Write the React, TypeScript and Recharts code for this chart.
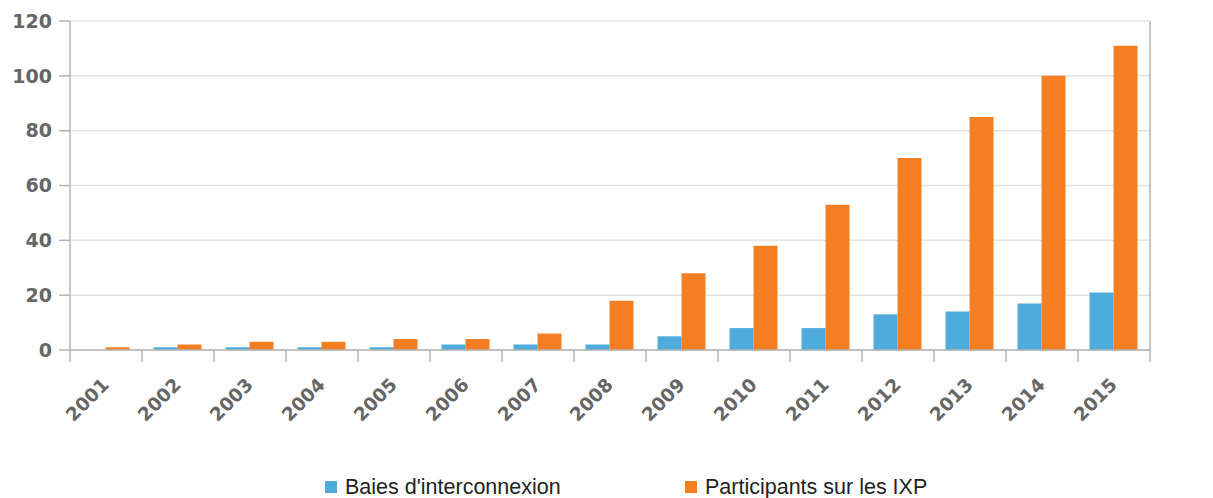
import React from 'react';
import { BarChart, Bar, XAxis, YAxis, CartesianGrid, Legend } from 'recharts';

const years = ['2001', '2002', '2003', '2004', '2005', '2006', '2007', '2008', '2009', '2010', '2011', '2012', '2013', '2014', '2015'];
const baies = [0, 1, 1, 1, 1, 2, 2, 2, 5, 8, 8, 13, 14, 17, 21];
const participants = [1, 2, 3, 3, 4, 4, 6, 18, 28, 38, 53, 70, 85, 100, 111];
const yTicks = [0, 20, 40, 60, 80, 100, 120];

const seriesNames = ["Baies d'interconnexion", 'Participants sur les IXP'];
const BLUE = '#4fabdc';
const ORANGE = '#f47e22';
const AXIS = '#b3b3b3';
const TEXT = '#666666';

const data = years.map((y, i) => ({ year: y, baies: baies[i], participants: participants[i] }));

const XTick = (props: any) => {
  const { x, y, payload, index } = props;
  const half = payload && typeof payload.offset === 'number' && payload.offset > 0 ? payload.offset : 36;
  const tx = x + 4;
  const ty = y + 36;
  return (
    <g>
      <line x1={x - half} y1={y} x2={x - half} y2={y + 12} stroke={AXIS} strokeWidth={1.5} />
      {index === years.length - 1 && (
        <line x1={x + half} y1={y} x2={x + half} y2={y + 12} stroke={AXIS} strokeWidth={1.5} />
      )}
      <text
        x={tx}
        y={ty}
        textAnchor="end"
        transform={`rotate(-45, ${tx}, ${ty})`}
        fill={TEXT}
        fontFamily="DejaVu Sans"
        fontWeight="bold"
        fontSize={18.5}
      >
        {payload.value}
      </text>
    </g>
  );
};

const LegendContent = () => (
  <div style={{ position: 'relative', height: 30, fontFamily: 'Liberation Sans, Arial, sans-serif', fontSize: 21.5, color: '#222' }}>
    {[BLUE, ORANGE].map((c, i) => (
      <div key={i} style={{ position: 'absolute', left: i === 0 ? 317 : 677, top: 8, height: 22, lineHeight: '22px', display: 'flex', alignItems: 'center', whiteSpace: 'nowrap' }}>
        <span style={{ display: 'inline-block', width: 12, height: 12, background: c, marginRight: 8 }} />
        <span>{seriesNames[i]}</span>
      </div>
    ))}
  </div>
);

const tickStyle = { fill: TEXT, fontFamily: 'DejaVu Sans', fontWeight: 'bold', fontSize: 19 } as any;

export default function App() {
  return (
    <BarChart
      width={1200}
      height={490}
      data={data}
      margin={{ top: 13, right: 0, left: 0, bottom: 0 }}
      barCategoryGap="16%"
      barGap={0}
      style={{ overflow: 'visible' }}
    >
      <CartesianGrid vertical={false} stroke="#e4e4e4" strokeWidth={1.5} yAxisId="left" />
      <XAxis
        dataKey="year"
        height={118}
        tickSize={0}
        tickMargin={0}
        tickLine={false}
        axisLine={{ stroke: AXIS, strokeWidth: 1.5 }}
        tick={<XTick />}
        interval={0}
      />
      <YAxis
        yAxisId="left"
        orientation="left"
        width={62}
        domain={[0, 120]}
        ticks={yTicks}
        tickSize={11}
        tickMargin={7}
        tick={tickStyle}
        tickLine={{ stroke: AXIS, strokeWidth: 1.5 }}
        axisLine={{ stroke: AXIS, strokeWidth: 1.5 }}
      />
      <YAxis
        yAxisId="right"
        orientation="right"
        width={58}
        domain={[0, 120]}
        ticks={yTicks}
        tickSize={13}
        tickMargin={7}
        tick={tickStyle}
        tickLine={{ stroke: AXIS, strokeWidth: 1.5 }}
        axisLine={{ stroke: AXIS, strokeWidth: 1.5 }}
      />
      <Legend verticalAlign="bottom" height={30} content={<LegendContent />} />
      <Bar yAxisId="left" dataKey="baies" name={seriesNames[0]} fill={BLUE} isAnimationActive={false} />
      <Bar yAxisId="left" dataKey="participants" name={seriesNames[1]} fill={ORANGE} isAnimationActive={false} />
    </BarChart>
  );
}
